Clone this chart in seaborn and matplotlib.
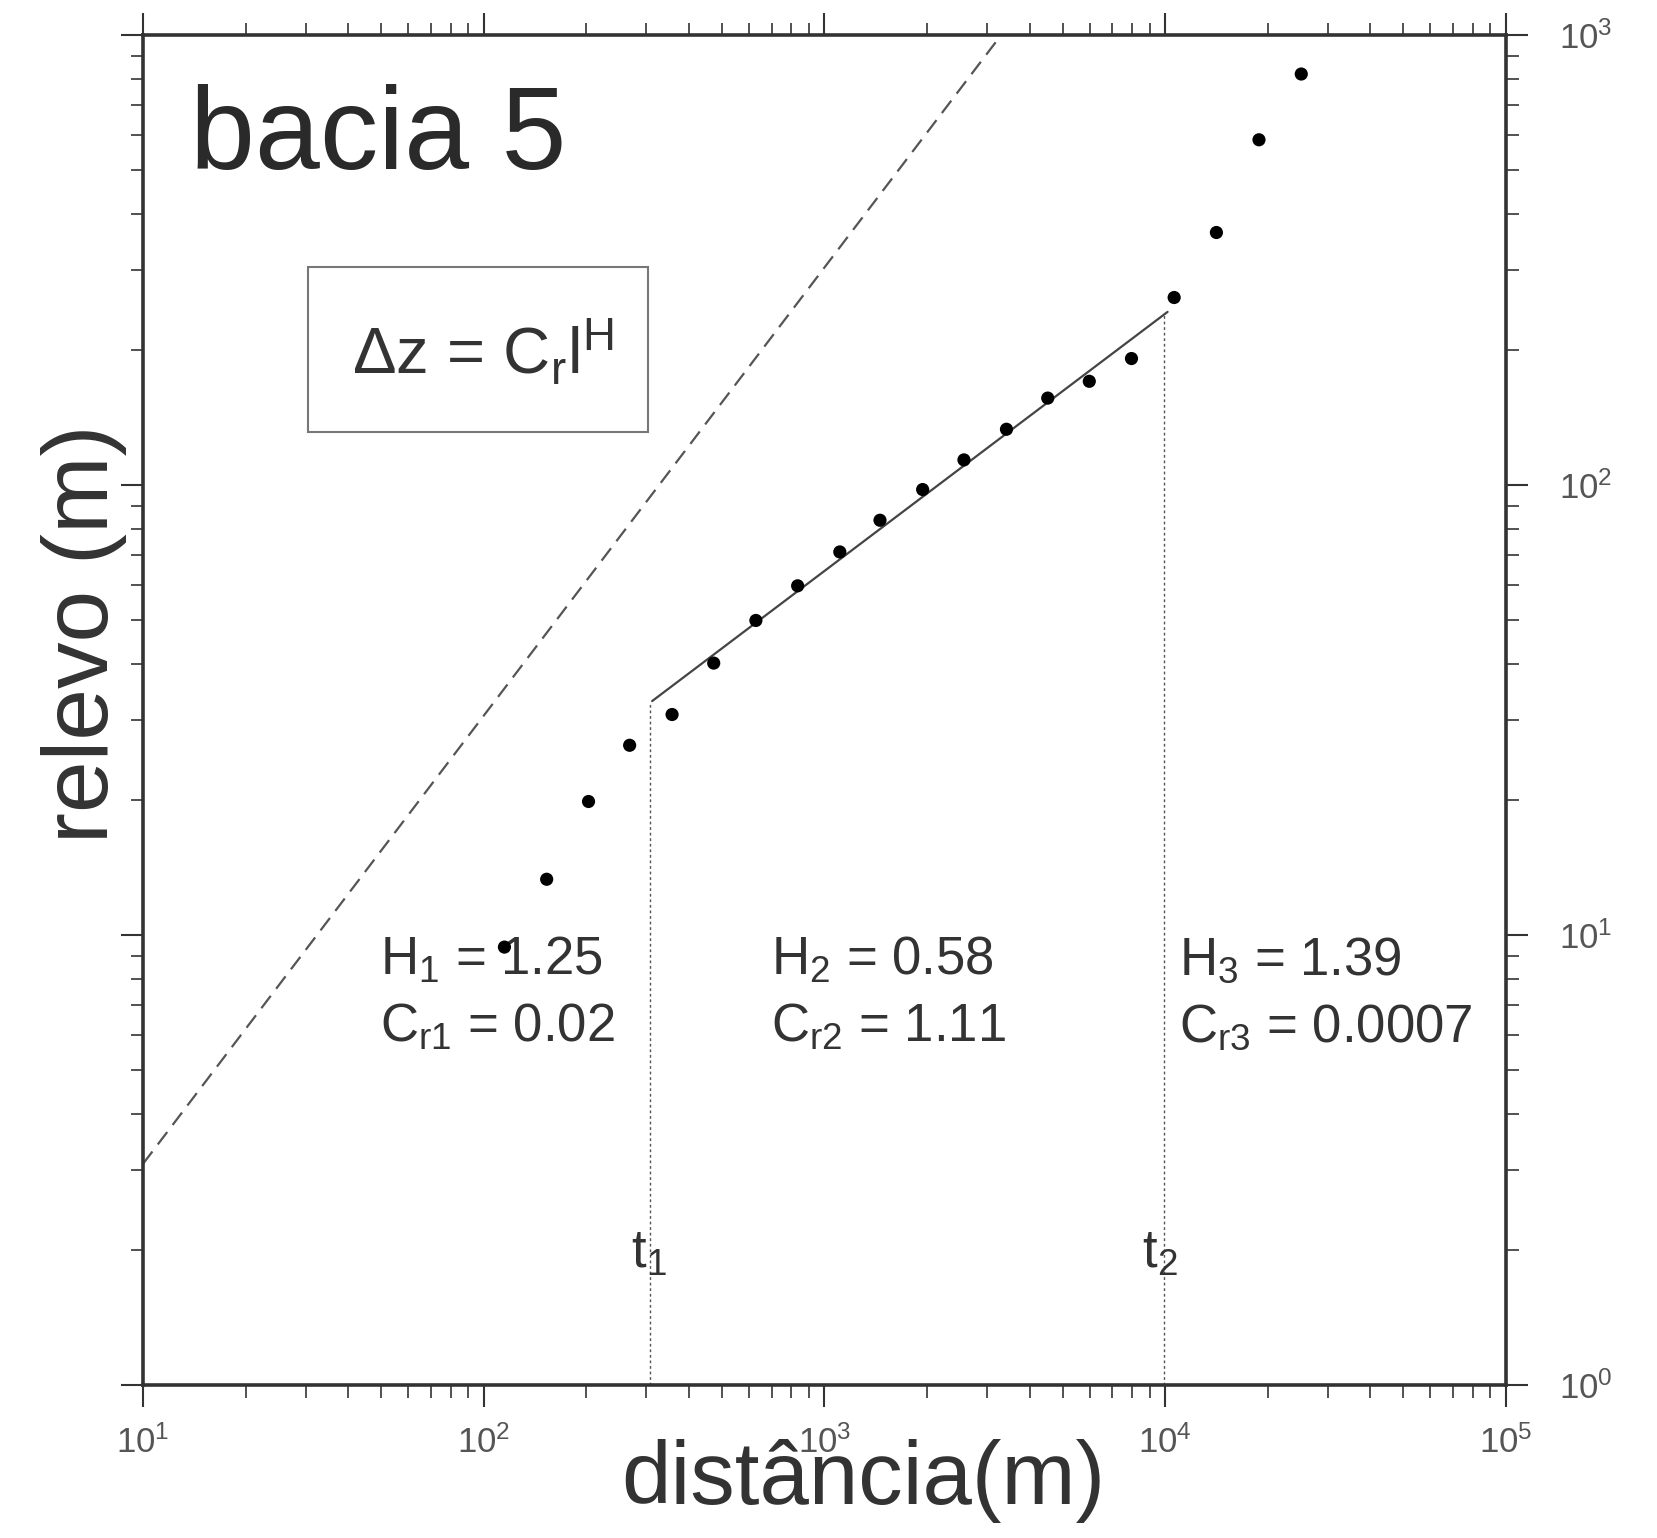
import numpy as np
import pandas as pd
import matplotlib
matplotlib.use("Agg")
import matplotlib.pyplot as plt
from matplotlib.ticker import LogLocator, LogFormatterMathtext, NullFormatter
import seaborn as sns

# ---- data ----
dist = [115, 153, 203, 268, 357, 473, 629, 834, 1109, 1455, 1941, 2566,
        3420, 4520, 5985, 7960, 10620, 14130, 18840, 25070]
relevo = [9.4, 13.3, 19.8, 26.4, 30.9, 40.2, 50.0, 59.7, 71.0, 83.5, 97.7,
          113.7, 133.0, 156.0, 170.0, 191.0, 261.0, 364.0, 585.0, 819.0]
fit_x = [312, 10160]
fit_y = [33.1, 242.5]
ref_x = [10, 3300]
ref_y = [3.1, 1000]
t_x = [308, 9900]
t_top = [33.0, 240.0]
t_labels = ["t$_1$", "t$_2$"]
H_labels = ["H$_1$ = 1.25", "H$_2$ = 0.58", "H$_3$ = 1.39"]
C_labels = ["C$_{r1}$ = 0.02", "C$_{r2}$ = 1.11", "C$_{r3}$ = 0.0007"]
title_text = "bacia 5"
formula = "\u0394z = C$_\\mathrm{r}$l$^\\mathrm{H}$"

sns.set_theme(style="white")
plt.rcParams["font.family"] = ["Liberation Sans", "DejaVu Sans"]
plt.rcParams["mathtext.fontset"] = "custom"
plt.rcParams["mathtext.rm"] = "Liberation Sans"
plt.rcParams["mathtext.it"] = "Liberation Sans"
plt.rcParams["mathtext.bf"] = "Liberation Sans:bold"

W, H = 1658, 1538
fig = plt.figure(figsize=(W / 100, H / 100), dpi=100)
L, R, T, B = 143, 1506, 35, 1385
ax = fig.add_axes([L / W, 1 - B / H, (R - L) / W, (B - T) / H])

def axp(px, py):
    return ((px - L) / (R - L), (B - py) / (B - T))

txt = "#333333"
ax.set_xscale("log")
ax.set_yscale("log")
ax.set_xlim(10, 1e5)
ax.set_ylim(1, 1e3)

df = pd.DataFrame({"d": dist, "r": relevo})
sns.scatterplot(data=df, x="d", y="r", ax=ax, color="black", s=90,
                edgecolor="none", zorder=5)
sns.lineplot(x=fit_x, y=fit_y, ax=ax, color="#444444", lw=1.6,
             estimator=None, sort=False)
sns.lineplot(x=ref_x, y=ref_y, ax=ax, color="#555555", lw=1.6,
             estimator=None, sort=False, dashes=False, linestyle=(0, (7, 4)))
for xv, yt in zip(t_x, t_top):
    ax.plot([xv, xv], [1, yt], color="#555555", lw=1.0, linestyle=(0, (2, 2)))

# ticks
for axis in (ax.xaxis, ax.yaxis):
    axis.set_major_locator(LogLocator(base=10, numticks=10))
    axis.set_minor_locator(LogLocator(base=10, subs=np.arange(2, 10), numticks=100))
    axis.set_minor_formatter(NullFormatter())
    axis.set_major_formatter(LogFormatterMathtext())
ax.tick_params(which="both", direction="out", top=True, right=True,
               left=True, bottom=True, labelleft=False, labelright=True,
               labeltop=False, labelbottom=True, color="#333333",
               labelcolor="#555555", labelsize=25)
ax.tick_params(which="major", length=16, width=1.5)
ax.tick_params(which="minor", length=9, width=1.2)
ax.tick_params(axis="x", which="major", pad=13)
ax.tick_params(axis="y", which="major", pad=22)
for sp in ax.spines.values():
    sp.set_color("#333333")
    sp.set_linewidth(2.6)
ax.set_xlabel("")
ax.set_ylabel("")

# texts
x0, y0 = axp(190, 169)
ax.text(x0, y0, title_text, transform=ax.transAxes, fontsize=84,
        color="#2a2a2a", va="baseline", ha="left")

bx0, by0 = axp(308, 432)
bx1, by1 = axp(648, 267)
rect = plt.Rectangle((bx0, by0), bx1 - bx0, by1 - by0, transform=ax.transAxes,
                     fill=False, edgecolor="#777777", lw=1.5)
ax.add_patch(rect)
fx, fy = axp(352, 374)
ax.text(fx, fy, formula, transform=ax.transAxes, fontsize=47, color=txt,
        va="baseline", ha="left")

for i, xp in enumerate([380, 771, 1179]):
    hx, hy = axp(xp, 975)
    ax.text(hx, hy, H_labels[i], transform=ax.transAxes, fontsize=38,
            color=txt, va="baseline", ha="left")
    cx, cy = axp(xp, 1042)
    ax.text(cx, cy, C_labels[i], transform=ax.transAxes, fontsize=38,
            color=txt, va="baseline", ha="left")

for i, xp in enumerate([631, 1142]):
    tx, ty = axp(xp, 1268)
    ax.text(tx, ty, t_labels[i], transform=ax.transAxes, fontsize=38,
            color=txt, va="baseline", ha="left")

fig.text(863 / W, 1 - 1504 / H, "distância(m)", fontsize=64, color=txt,
         ha="center", va="baseline")
fig.text(108 / W, 1 - 634 / H, "relevo (m)", fontsize=67, color=txt,
         ha="center", va="baseline", rotation=90, rotation_mode="anchor")

fig.savefig("out.png", dpi=100)
